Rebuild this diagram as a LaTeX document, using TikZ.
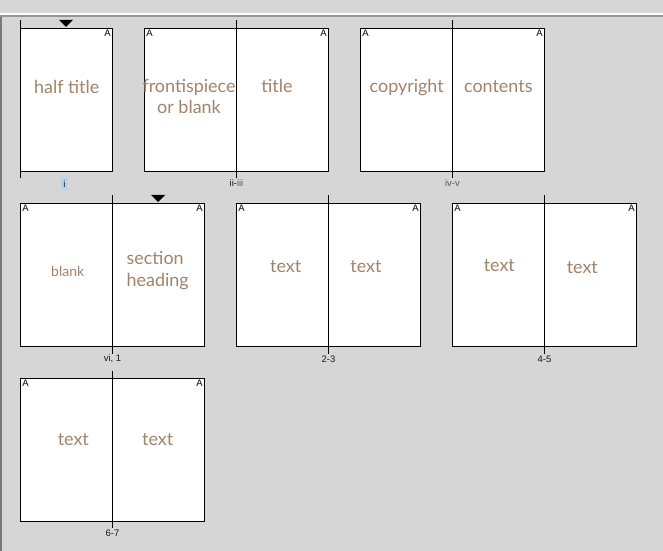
\documentclass[tikz,border=0pt]{standalone}
\usepackage{fontspec}
\newfontfamily\pagefont{Lato}
\newfontfamily\uifont{Liberation Sans}
\definecolor{canvas}{RGB}{214,214,214}
\definecolor{ruleline}{RGB}{150,150,150}
\definecolor{frame}{RGB}{120,120,120}
\definecolor{ink}{RGB}{160,132,106}
\definecolor{tag}{RGB}{25,25,25}
\definecolor{dimtag}{RGB}{90,90,90}
\definecolor{pick}{RGB}{181,213,255}
\tikzset{
  page/.style={rectangle,draw,fill=white,line width=1bp,minimum width=92bp,minimum height=143bp,inner sep=0pt,outer sep=0pt,anchor=north west},
  body/.style={font=\pagefont\fontsize{18}{21}\selectfont,text=ink,anchor=base,inner sep=0pt,align=center},
  corner/.style={font=\uifont\fontsize{9.5}{9.5}\selectfont,inner sep=1.6bp},
  pagenum/.style={font=\uifont\fontsize{9.5}{9.5}\selectfont,text=tag,inner sep=0pt},
  spine/.style={line width=1bp}
}
\begin{document}
\begin{tikzpicture}[x=1bp,y=-1bp]
	% window
	\fill[canvas] (0,0) rectangle (663,551);
	\useasboundingbox (0,0) rectangle (663,551);
	\fill[white] (0,13) rectangle (663,15);
	\fill[ruleline] (0,15) rectangle (663,17);
	\fill[frame] (0,17) rectangle (2,551);

	% row 1
	\node (pI) at (20.5,28.5) [page] {};
	\node (pII) at (144.5,28.5) [page] {};
	\node (pIII) at (pII.north east) [page] {};
	\node (pIV) at (360.5,28.5) [page] {};
	\node (pV) at (pIV.north east) [page] {};

	% row 2
	\node (pVI) at (20.5,203.5) [page] {};
	\node (pOne) at (pVI.north east) [page] {};
	\node (pTwo) at (236.5,203.5) [page] {};
	\node (pThree) at (pTwo.north east) [page] {};
	\node (pFour) at (452.5,203.5) [page] {};
	\node (pFive) at (pFour.north east) [page] {};

	% row 3
	\node (pSix) at (20.5,378.5) [page] {};
	\node (pSeven) at (pSix.north east) [page] {};

	% spines
	\coordinate (sIt) at ([yshift=8bp]pI.north west);
	\coordinate (sIb) at ([yshift=-6bp]pI.south west);
	\coordinate (sIIt) at ([yshift=8bp]pII.north east);
	\coordinate (sIIb) at ([yshift=-6bp]pII.south east);
	\coordinate (sIVt) at ([yshift=8bp]pIV.north east);
	\coordinate (sIVb) at ([yshift=-6bp]pIV.south east);
	\coordinate (sVIt) at ([yshift=8bp]pVI.north east);
	\coordinate (sVIb) at ([yshift=-7bp]pVI.south east);
	\coordinate (sTwot) at ([yshift=8bp]pTwo.north east);
	\coordinate (sTwob) at ([yshift=-7bp]pTwo.south east);
	\coordinate (sFourt) at ([yshift=8bp]pFour.north east);
	\coordinate (sFourb) at ([yshift=-7bp]pFour.south east);
	\coordinate (sSixt) at ([yshift=8bp]pSix.north east);
	\coordinate (sSixb) at ([yshift=-6bp]pSix.south east);
	\draw[spine] (sIt) -- (sIb);
	\draw[spine] (sIIt) -- (sIIb);
	\draw[spine] (sIVt) -- (sIVb);
	\draw[spine] (sVIt) -- (sVIb);
	\draw[spine] (sTwot) -- (sTwob);
	\draw[spine] (sFourt) -- (sFourb);
	\draw[spine] (sSixt) -- (sSixb);

	% insertion marks
	\fill (59,20) -- (73,20) -- (66,27) -- cycle;
	\fill (151,195) -- (165,195) -- (158,202) -- cycle;

	% master letters
	\node (aI) at (pI.north east) [corner,anchor=north east] {A};
	\node (aII) at (pII.north west) [corner,anchor=north west] {A};
	\node (aIII) at (pIII.north east) [corner,anchor=north east] {A};
	\node (aIV) at (pIV.north west) [corner,anchor=north west] {A};
	\node (aV) at (pV.north east) [corner,anchor=north east] {A};
	\node (aVI) at (pVI.north west) [corner,anchor=north west] {A};
	\node (aOne) at (pOne.north east) [corner,anchor=north east] {A};
	\node (aTwo) at (pTwo.north west) [corner,anchor=north west] {A};
	\node (aThree) at (pThree.north east) [corner,anchor=north east] {A};
	\node (aFour) at (pFour.north west) [corner,anchor=north west] {A};
	\node (aFive) at (pFive.north east) [corner,anchor=north east] {A};
	\node (aSix) at (pSix.north west) [corner,anchor=north west] {A};
	\node (aSeven) at (pSeven.north east) [corner,anchor=north east] {A};

	% page texts
	\node (tHalf) at (66.7,93.3) [body] {half title};
	\node (tFront) at (189,113.3) [body] {frontispiece\\or blank};
	\node (tTitle) at (277,93) [body] {title};
	\node (tCopy) at (406.7,92.5) [body] {copyright};
	\node (tCont) at (498.3,92.5) [body] {contents};
	\node (tBlank) at (67.7,276.7) [body,font=\pagefont\fontsize{14}{16}\selectfont] {blank};
	\node (tSect) at (157.7,286) [body,align=left,font=\pagefont\fontsize{18}{22}\selectfont] {section\\heading};
	\node (tTwo) at (285.7,272.3) [body] {text};
	\node (tThree) at (366,272.3) [body] {text};
	\node (tFour) at (499.3,271) [body] {text};
	\node (tFive) at (582.3,273.3) [body] {text};
	\node (tSix) at (73.3,445.3) [body] {text};
	\node (tSeven) at (157.7,445.3) [body] {text};

	% spread numbers
	\node (nI) at (64.5,183.7) [pagenum,fill=pick,minimum width=7bp,minimum height=12.5bp] {i};
	\node (nII) at (236.5,183.5) [pagenum] {ii-\textcolor{dimtag}{iii}};
	\node (nIV) at (452.5,183.5) [pagenum,text=dimtag] {iv-v};
	\node (nVI) at (112.5,359) [pagenum] {vi, 1};
	\node (nTwo) at (328.5,359) [pagenum] {2-3};
	\node (nFour) at (544.5,359) [pagenum] {4-5};
	\node (nSix) at (112.5,533.5) [pagenum] {6-7};
\end{tikzpicture}
\end{document}
